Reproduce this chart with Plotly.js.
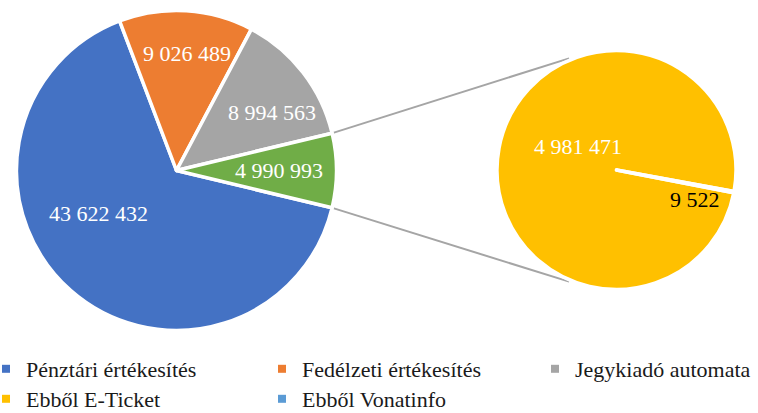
<!DOCTYPE html>
<html><head><meta charset="utf-8">
<script src="https://cdn.plot.ly/plotly-3.0.1.min.js"></script>
<style>html,body{margin:0;padding:0;background:#fff;} #chart{width:758px;height:413px;}</style>
</head><body><div id="chart"></div>
<script>
// ---- data ----
const mainLabels = ['Pénztári értékesítés', 'Fedélzeti értékesítés', 'Jegykiadó automata', 'Egyéb'];
const mainValues = [43622432, 9026489, 8994563, 4990993];
const subLabels = ['Ebből E-Ticket', 'Ebből Vonatinfo'];
const subValues = [4981471, 9522];

// ---- style ----
const mainColors = ['#4472C4', '#ED7D31', '#A5A5A5', '#70AD47'];
const subColors = ['#FFC000', '#5B9BD5'];
const FONT = "'Liberation Serif', 'Times New Roman', Tinos, 'DejaVu Serif', serif";
const W = 758, H = 413;
const M = {cx: 176.5, cy: 170.5, r: 160};
const S = {cx: 616.5, cy: 170, r: 119.5};
const tinyDir = -10.7;                  // direction of the split line in the second pie (math deg)
const mainLabR = [0.56, 0.74, 0.705, 0.65];
const mainLabDA = [-19.9, -1.6, -6.2, 0];
const subLabR = [0.385, 0.714];
const subLabDA = [-21.2, -9.8];
const subLabColor = ['#ffffff', '#000000'];
// legend slots: [left px of legend box, row centre px]
const legendSlots = [[-14, 369], [262, 369], [535, 369], [-14, 399], [262, 399]];

const fmt = v => String(v).replace(/\B(?=(\d{3})+(?!\d))/g, ' ');
const sum = a => a.reduce((s, v) => s + v, 0);
const dom = c => ({x: [(c.cx - c.r) / W, (c.cx + c.r) / W], y: [1 - (c.cy + c.r) / H, 1 - (c.cy - c.r) / H]});
const rad = d => d * Math.PI / 180;
const pt = (c, rr, a) => [(c.cx + rr * Math.cos(rad(a))) / W, 1 - (c.cy - rr * Math.sin(rad(a))) / H];

const mainTotal = sum(mainValues);
const mainFr = mainValues.map(v => v / mainTotal);
const halfOther = mainFr[3] * 180;
const mainRotation = 90 + halfOther;
const mainMid = [];
let a = -halfOther;
mainFr.forEach(f => { mainMid.push(a - f * 180); a -= f * 360; });

const subTotal = sum(subValues);
const subFr = subValues.map(v => v / subTotal);
const halfTiny = subFr[1] * 180;
const subRotation = 90 - (tinyDir - halfTiny);
const subMid = [tinyDir - halfTiny - subFr[0] * 180, tinyDir];

const rVis = M.r - 1.75, sVis = S.r - 1.75;
const annotations = [];
mainValues.forEach((v, i) => {
  const p = pt(M, rVis * mainLabR[i], mainMid[i] + mainLabDA[i]);
  annotations.push({x: p[0], y: p[1], xref: 'paper', yref: 'paper', text: fmt(v), showarrow: false,
    xanchor: 'center', yanchor: 'middle', font: {family: FONT, size: 22, color: '#ffffff'}});
});
subValues.forEach((v, i) => {
  const p = pt(S, sVis * subLabR[i], subMid[i] + subLabDA[i]);
  annotations.push({x: p[0], y: p[1], xref: 'paper', yref: 'paper', text: fmt(v), showarrow: false,
    xanchor: 'center', yanchor: 'middle', font: {family: FONT, size: 22, color: subLabColor[i]}});
});

// connector lines
const shapes = [1, -1].map(s => {
  const p0 = pt(M, rVis + 2, s * halfOther);
  const p1 = pt(S, sVis * 1.03, s * 113);
  return {type: 'line', xref: 'paper', yref: 'paper', x0: p0[0], y0: p0[1], x1: p1[0], y1: p1[1],
    line: {color: '#A5A5A5', width: 2}, layer: 'below'};
});

const traces = [
  {type: 'pie', labels: mainLabels, values: mainValues, sort: false, direction: 'clockwise',
   rotation: mainRotation, domain: dom(M), textinfo: 'none', hoverinfo: 'label+value', showlegend: false,
   marker: {colors: mainColors, line: {color: '#ffffff', width: 3.5}}},
  {type: 'pie', labels: subLabels, values: subValues, sort: false, direction: 'clockwise',
   rotation: subRotation, domain: dom(S), textinfo: 'none', hoverinfo: 'label+value', showlegend: false,
   marker: {colors: subColors, line: {color: '#ffffff', width: 3.5}}}
];
const legendNames = mainLabels.slice(0, 3).concat(subLabels);
const legendColors = mainColors.slice(0, 3).concat(subColors);
const legFont = {family: FONT, size: 22, color: '#1a1a1a'};
const layout = {
  width: W, height: H, margin: {l: 0, r: 0, t: 0, b: 0, autoexpand: false},
  paper_bgcolor: '#ffffff', plot_bgcolor: 'rgba(0,0,0,0)',
  xaxis: {visible: false}, yaxis: {visible: false},
  showlegend: true, annotations: annotations, shapes: shapes
};
legendNames.forEach((n, i) => {
  const key = i === 0 ? 'legend' : 'legend' + (i + 1);
  traces.push({type: 'scatter', x: [null], y: [null], mode: 'markers', name: n, legend: key,
    hoverinfo: 'skip', marker: {symbol: 'square', size: 8, color: legendColors[i]}});
  layout[key] = {orientation: 'v', x: legendSlots[i][0] / W, xanchor: 'left', y: 1 - legendSlots[i][1] / H,
    yanchor: 'middle', font: legFont, bgcolor: 'rgba(0,0,0,0)', borderwidth: 0};
});
Plotly.newPlot('chart', traces, layout, {displayModeBar: false, staticPlot: true});
</script></body></html>
